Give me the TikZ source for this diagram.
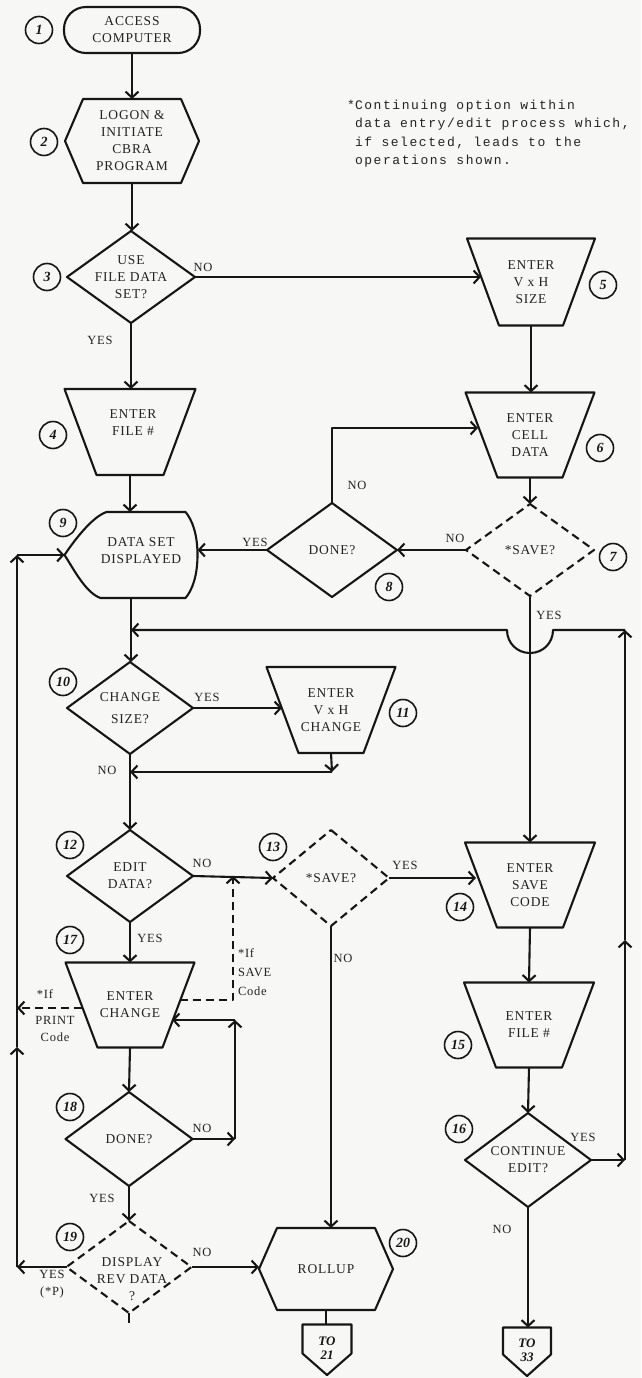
\documentclass[tikz,border=0pt]{standalone}
\usepackage{fontspec}
\setmainfont{Liberation Serif}
\newfontfamily\shapefont{Liberation Serif}[LetterSpace=6]
\newfontfamily\notefont{Liberation Mono}[LetterSpace=12]
\newfontfamily\numfontfam{Liberation Serif}
\usetikzlibrary{arrows.meta,calc}
\definecolor{ink}{RGB}{22,22,22}
\definecolor{txt}{RGB}{35,35,35}
\definecolor{paper}{RGB}{247,247,245}
\begin{document}
\begin{tikzpicture}[x=1pt,y=-1pt,
  ln/.style={line width=2.1pt, draw=ink, line join=round},
  arr/.style={ln, -{Straight Barb[length=6pt,width=13pt]}},
  dsh/.style={dash pattern=on 8pt off 5pt},
  box/.style={inner sep=0pt, outer sep=0pt, align=center, text=txt, font=\shapefont\fontsize{13.5}{17}\selectfont},
  lab/.style={inner sep=0pt, outer sep=0pt, align=center, text=txt, font=\shapefont\fontsize{12.5}{17}\selectfont},
  num/.style={circle, draw=ink, line width=1.6pt, minimum size=27pt, inner sep=0pt, text=ink, font=\numfontfam\bfseries\itshape\fontsize{14}{14}\selectfont},
  conn/.style={inner sep=0pt, outer sep=0pt, align=center, text=ink, font=\numfontfam\bfseries\itshape\fontsize{13}{14}\selectfont},
  notef/.style={inner sep=0pt, outer sep=0pt, align=left, text=txt, font=\notefont\fontsize{13}{18.5}\selectfont}
]
\fill[paper] (0,0) rectangle (641,1378);
\useasboundingbox (0,0) rectangle (641,1378);

% ---------- nodes ----------
\node[box,minimum width=136pt,minimum height=46pt] (n1) at (132,30) {ACCESS\\COMPUTER};
\node[box,minimum width=134pt,minimum height=84pt] (n2) at (132,141) {LOGON \&\\INITIATE\\CBRA\\PROGRAM};
\node[box,minimum width=128pt,minimum height=92pt] (n3) at (131,277) {USE\\FILE DATA\\SET?};
\node[box,minimum width=131pt,minimum height=86pt] (n4) at (130,432) {};
\node[box] (t4) at (133,423) {ENTER\\FILE \#};
\node[box,minimum width=128pt,minimum height=87pt] (n5) at (531,282) {ENTER\\V x H\\SIZE};
\node[box,minimum width=129pt,minimum height=85pt] (n6) at (530,435) {ENTER\\CELL\\DATA};
\node[box,minimum width=128pt,minimum height=92pt] (n7) at (530,550) {*SAVE?};
\node[box,minimum width=130pt,minimum height=94pt] (n8) at (332,550) {DONE?};
\node[box,minimum width=133pt,minimum height=86pt] (n9) at (131,555) {};
\node[box] (t9) at (141,551) {DATA SET\\DISPLAYED};
\node[box,minimum width=126pt,minimum height=92pt] (n10) at (130,708) {CHANGE\\[5pt]SIZE?};
\node[box,minimum width=129pt,minimum height=86pt] (n11) at (331,710) {ENTER\\V x H\\CHANGE};
\node[box,minimum width=126pt,minimum height=92pt] (n12) at (130,876) {EDIT\\DATA?};
\node[box,minimum width=116pt,minimum height=96pt] (n13) at (331,878) {*SAVE?};
\node[box,minimum width=130pt,minimum height=85pt] (n14) at (530,885) {ENTER\\SAVE\\CODE};
\node[box,minimum width=130pt,minimum height=85pt] (n15) at (529,1025) {ENTER\\FILE \#};
\node[box,minimum width=126pt,minimum height=94pt] (n16) at (528,1160) {CONTINUE\\EDIT?};
\node[box,minimum width=129pt,minimum height=85pt] (n17) at (130,1005) {ENTER\\CHANGE};
\node[box,minimum width=127pt,minimum height=94pt] (n18) at (129,1139) {DONE?};
\node[box,minimum width=125pt,minimum height=92pt] (n19) at (129,1267) {};
\node[box] (t19) at (132,1279) {DISPLAY\\REV DATA\\?};
\node[box,minimum width=134pt,minimum height=82pt] (n20) at (326,1269) {ROLLUP};
\node[conn,minimum width=49pt,minimum height=47pt] (c21) at (327,1348) {TO\\21};
\node[conn,minimum width=48pt,minimum height=45pt] (c33) at (527,1350) {TO\\33};

% ---------- outlines ----------
\draw[ln,rounded corners=22pt] (n1.north west) rectangle (n1.south east);
\foreach \n in {n2,n20}{
  \draw[ln] ([shift={(18,0)}]\n.north west) -- ([shift={(-18,0)}]\n.north east) -- (\n.east)
    -- ([shift={(-18,0)}]\n.south east) -- ([shift={(18,0)}]\n.south west) -- (\n.west) -- cycle;}
\foreach \n in {n3,n8,n10,n12,n16,n18}{
  \draw[ln] (\n.north) -- (\n.east) -- (\n.south) -- (\n.west) -- cycle;}
\foreach \n in {n7,n13,n19}{
  \draw[ln,dsh] (\n.north) -- (\n.east) -- (\n.south) -- (\n.west) -- cycle;}
\foreach \n in {n4,n5,n6,n11,n14,n15,n17}{
  \draw[ln] (\n.north west) -- (\n.north east) -- ([shift={(-32,0)}]\n.south east) -- ([shift={(32,0)}]\n.south west) -- cycle;}
\draw[ln] ([shift={(42,0)}]n9.north west) -- ([shift={(-12,0)}]n9.north east)
  .. controls ([shift={(-5,8)}]n9.north east) and ([shift={(0,-20)}]n9.east) .. (n9.east)
  .. controls ([shift={(0,20)}]n9.east) and ([shift={(-5,-8)}]n9.south east) .. ([shift={(-12,0)}]n9.south east)
  -- ([shift={(36,0)}]n9.south west)
  .. controls ([shift={(21,-5)}]n9.south west) and ([shift={(8,12)}]n9.west) .. (n9.west)
  .. controls ([shift={(8,-12)}]n9.west) and ([shift={(27,5)}]n9.north west) .. ([shift={(42,0)}]n9.north west) -- cycle;
\coordinate (c21b) at (327,1375);
\coordinate (c33b) at (527,1376);
\draw[ln] (c21.north west) -- (c21.north east) -- ([shift={(0,-18)}]c21.south east) -- (c21b)
    -- ([shift={(0,-18)}]c21.south west) -- cycle;
\draw[ln] (c33.north west) -- (c33.north east) -- ([shift={(0,-18)}]c33.south east) -- (c33b)
    -- ([shift={(0,-18)}]c33.south west) -- cycle;

% ---------- circled numbers ----------
\node[num] (k1) at (39,30) {1};
\node[num] (k2) at (44,142) {2};
\node[num] (k3) at (47,277) {3};
\node[num] (k4) at (53,435) {4};
\node[num] (k5) at (603,285) {5};
\node[num] (k6) at (600,448) {6};
\node[num] (k7) at (613,557) {7};
\node[num] (k8) at (389,587) {8};
\node[num] (k9) at (63,523) {9};
\node[num] (k10) at (63,682) {10};
\node[num] (k11) at (403,713) {11};
\node[num] (k12) at (70,845) {12};
\node[num] (k13) at (273,847) {13};
\node[num] (k14) at (460,907) {14};
\node[num] (k15) at (458,1045) {15};
\node[num] (k16) at (459,1129) {16};
\node[num] (k17) at (70,940) {17};
\node[num] (k18) at (70,1107) {18};
\node[num] (k19) at (70,1237) {19};
\node[num] (k20) at (403,1243) {20};

% ---------- note ----------
\node[notef,anchor=north west] (note) at (355,100) {\llap{*}Continuing option within\\data entry/edit process which,\\if selected, leads to the\\operations shown.};

% ---------- coordinates ----------
\coordinate (p5) at (481,277);
\coordinate (p6) at (478,428);
\coordinate (r1) at (625,1160);
\coordinate (r2) at (625,940);
\coordinate (r3) at (625,630);
\coordinate (hopR) at (553,630);
\coordinate (hopB) at (530,653);
\coordinate (hopL) at (507,630);
\coordinate (p11) at (282,708);
\coordinate (m11) at (332,772);
\coordinate (p14) at (476,878);
\coordinate (p17r) at (180,1000);
\coordinate (d1) at (233,1000);
\coordinate (p17l) at (82,1008);
\coordinate (L2) at (17,1008);
\coordinate (q1) at (235,1139);
\coordinate (q2) at (235,1020);
\coordinate (p17c) at (172,1020);
\coordinate (L1) at (17,1267);
\coordinate (L3) at (17,1047);
\coordinate (L4) at (17,555);
\coordinate (s19) at (129,1323);

% ---------- connectors ----------
\draw[arr] (n1.south) -- (n2.north);
\draw[arr] (n2.south) -- (n2.south |- n3.north);
\draw[arr] (n3.east) -- (p5);
\draw[arr] (n3.south) -- (n3.south |- n4.north);
\draw[arr] (n4.south) -- (n4.south |- n9.north);
\draw[arr] (n5.south) -- (n5.south |- n6.north);
\draw[arr] (n6.south) -- (n7.north);
\draw[arr] (n7.west) -- (n8.east);
\draw[arr] (n8.north) |- (p6);
\draw[arr] (n8.west) -- (n8.west -| n9.east);
\draw[arr] (n7.south) -- (n7.south |- n14.north);
\draw[arr] (n16.east) -- (r1);
\draw[arr] (r1) -- (r2);
\draw[arr] (r2) -- (r3);
\draw[arr] (r3) -- (hopR) .. controls ($(hopR)+(0,13)$) and ($(hopB)+(13,0)$) .. (hopB)
  .. controls ($(hopB)+(-13,0)$) and ($(hopL)+(0,13)$) .. (hopL) -- (n9.south |- r3);
\draw[arr] (n9.south) -- (n9.south |- n10.north);
\draw[arr] (n10.east) -- (p11);
\draw[arr] (n11.south) -- (m11);
\draw[arr] (m11) -- (m11 -| n10.south);
\draw[arr] (n10.south) -- (n12.north);
\draw[arr] (n12.east) -- (n13.west);
\draw[arr] (n12.south) -- (n17.north);
\draw[arr] (n13.east) -- (p14);
\draw[arr] (n13.south) -- (n13.south |- n20.north);
\draw[arr,dsh] (p17r) -| (d1 |- n12.east);
\draw[arr,dsh] (p17l) -- (L2);
\draw[arr] (n14.south) -- (n15.north);
\draw[arr] (n15.south) -- (n16.north);
\draw[arr] (n16.south) -- (n16.south |- c33.north);
\draw[arr] (n17.south) -- (n18.north);
\draw[arr] (n18.east) -- (q1);
\draw[arr] (q1) -- (q2);
\draw[arr] (q2) -- (p17c);
\draw[arr] (n18.south) -- (n19.north);
\draw[arr] (n19.west) -- (L1);
\draw[arr] (L1) -- (L3);
\draw[arr] (L3) -- (L4);
\draw[arr] (L4) -- (n9.west);
\draw[arr] (n19.east) -- (n19.east -| n20.west);
\draw[ln] (n19.south) -- (s19);
\draw[ln] (n20.south) -- (n20.south |- c21.north);

% ---------- labels ----------
\node[lab] (l3n) at (203,267) {NO};
\node[lab] (l3y) at (100,340) {YES};
\node[lab] (l8n) at (357,485) {NO};
\node[lab] (l8y) at (255,542) {YES};
\node[lab] (l7n) at (455,538) {NO};
\node[lab] (l7y) at (549,615) {YES};
\node[lab] (l10y) at (207,697) {YES};
\node[lab] (l10n) at (107,770) {NO};
\node[lab] (l12n) at (202,863) {NO};
\node[lab] (l12y) at (150,938) {YES};
\node[lab] (l13y) at (405,865) {YES};
\node[lab] (l13n) at (343,958) {NO};
\node[lab,align=left,anchor=west,font=\shapefont\fontsize{12.5}{19}\selectfont] (lsave) at (238,972) {*If\\SAVE\\Code};
\node[lab] (lp1) at (45,994) {*If};
\node[lab] (lp2) at (55,1029) {PRINT\\Code};
\node[lab] (l18n) at (202,1128) {NO};
\node[lab] (l18y) at (102,1198) {YES};
\node[lab] (l19y) at (52,1284) {YES\\(*P)};
\node[lab] (l19n) at (202,1252) {NO};
\node[lab] (l16y) at (583,1137) {YES};
\node[lab] (l16n) at (502,1229) {NO};
\end{tikzpicture}
\end{document}
